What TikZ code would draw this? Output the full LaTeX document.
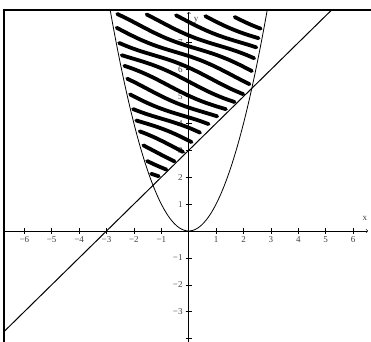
\documentclass[tikz,border=0pt]{standalone}
\usepackage{fontspec}
\setmainfont{Liberation Serif}
\begin{document}
\begin{tikzpicture}[x=27.4pt,y=26.9pt,
        ticklabel/.style={font=\fontsize{9}{10}\selectfont,text=black!75,inner sep=1pt},
        hatch/.style={line width=3.8pt,line cap=round}]
        \useasboundingbox (-6.887,-4.126) rectangle (6.653,8.587);
        % frame, top and left only
        \coordinate (frametop) at (6.7,8.216);
        \coordinate (framecorner) at (-6.741,8.216);
        \coordinate (framebottom) at (-6.741,-4.2);
        \draw[line width=1.3pt] (framebottom) -- (framecorner) -- (frametop);

        % axes
        \coordinate (xstart) at (-6.741,0);
        \coordinate (xend) at (6.54,0);
        \coordinate (ystart) at (0,-4.2);
        \coordinate (yend) at (0,8.14);
        \draw[->,>=to,line width=0.5pt] (xstart) -- (xend);
        \draw[->,>=to,line width=0.5pt] (ystart) -- (yend);
        \node[ticklabel] (xlabel) at (6.43,0.48) {x};
        \node[ticklabel] (ylabel) at (0.27,7.84) {y};
        \foreach \x in {-6,...,-1,1,2,...,6} {
            \draw[line width=0.5pt] (\x,-0.11) -- (\x,0.11);
            \node[ticklabel,below] at (\x,-0.15) {\ifnum\x<0 −\the\numexpr-\x\relax\else\x\fi};
        }
        \foreach \y in {-4,...,-1,1,2,...,7} {
            \draw[line width=0.5pt] (-0.11,\y) -- (0.11,\y);
            \ifnum\y>-4
                \node[ticklabel,left] at (-0.18,\y) {\ifnum\y<0 −\the\numexpr-\y\relax\else\y\fi};
            \fi
        }

        % parabola y = x^2 and line y = x + 3
        \draw[line width=0.8pt] plot[domain=-2.866:2.866,samples=60,smooth] (\x,{\x*\x});
        \draw[line width=1pt] (-6.741,-3.741) -- (5.216,8.216);

        % hand drawn hatching of the region
        \def\m{0.42}
        \foreach \k [count=\n] in {8.7,8.25,7.8,7.35,6.9,6.45,6.0,5.55,5.1,4.65,4.2,3.76,3.32,2.88,2.44,2.02,1.62} {
            \pgfmathsetmacro\xl{max((-\m-sqrt(\m*\m+4*\k))/2,(\k-8.05)/\m)+0.13}
            \pgfmathsetmacro\xr{min((-\m+sqrt(\m*\m+4*\k))/2,(\k-3)/(1+\m))-0.12}
            \draw[hatch] plot[domain=\xl:\xr,samples=12,smooth] (\x,{\k-\m*\x+0.08*sin(85*\x+67*\n)});
        }
    \end{tikzpicture}
\end{document}
